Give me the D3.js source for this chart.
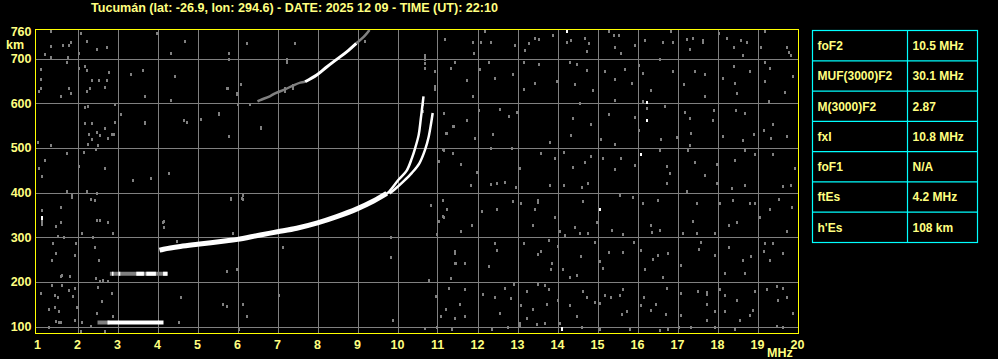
<!DOCTYPE html>
<html><head><meta charset="utf-8">
<script src="https://cdn.jsdelivr.net/npm/d3@7"></script>
<style>
html,body{margin:0;padding:0;background:#000;}
svg{display:block;}
text{font-family:"Liberation Sans",Arial,sans-serif;font-weight:bold;}
</style></head>
<body>
<svg id="c" width="998" height="359"></svg>
<script>
// ---------- data ----------
const title = "Tucumán (lat: -26.9, lon: 294.6) - DATE: 2025 12 09 - TIME (UT): 22:10";
const freqTicks = [1,2,3,4,5,6,7,8,9,10,11,12,13,14,15,16,17,18,19,20];
const heightTicks = [100,200,300,400,500,600,700];
const topHeightLabel = 760;
const tableLabels = ["foF2","MUF(3000)F2","M(3000)F2","fxI","foF1","ftEs","h'Es"];
const tableValues = ["10.5 MHz","30.1 MHz","2.87","10.8 MHz","N/A","4.2 MHz","108 km"];

// F2 trace (common O/X part), frequency MHz, virtual height km
const f2Common = [[4.05,271],[4.15,273],[4.57,279],[5.0,284],[5.73,292],[6.0,295],[6.57,305],[7.0,312],[7.48,320],[8.0,332],[8.48,346],[9.0,364],[9.4,381],[9.73,398]];
const f2OBranch = [[9.7,396],[9.78,401],[10.03,429],[10.23,449],[10.36,477],[10.44,499],[10.53,529],[10.58,563],[10.63,600],[10.65,615]];
const f2XBranch = [[9.8,398],[9.94,408],[10.15,425],[10.36,444],[10.55,466],[10.69,496],[10.78,525],[10.84,555],[10.88,578]];
// second hop F trace
const f2HopFaint = [[6.5,604],[6.57,607],[6.82,616],[6.94,622],[7.19,631],[7.4,640],[7.57,646],[7.69,648]];
const f2HopStrong = [[7.69,648],[7.98,663],[8.23,681],[8.48,698],[8.73,715],[8.97,734]];
const f2HopTail = [[8.97,734],[9.19,752],[9.3,764]];
// sporadic E
const esFaint = [[2.5,109],[2.8,109]];
const esStrong = [[2.75,109],[4.15,109]];
const es2Faint = [[2.81,218],[4.25,218]];
const es2Strong = [[[3.47,218],[3.66,218]],[[3.72,218],[3.96,218]],[[4.14,218],[4.25,218]],[[2.86,218],[2.9,218]],[[3.02,218],[3.07,218]]];

// background speckle
const noise = [
[11.19,744],[11.88,737],[11.9,712],[12.08,738],[12.33,738],[12.19,762],[12.94,731],[13.19,719],[13.29,734],[13.44,747],[13.54,743],[13.88,753],[14.23,738],[14.33,742],[14.69,747],[14.78,734],[14.74,717],[15.29,762],[15.4,753],[15.54,753],[15.44,725],[15.58,712],[15.94,731],[16.19,742],[16.63,738],[16.83,762],[16.88,738],[17.23,743],[17.38,745],[17.63,742],[17.63,738],[17.3,722],[18.03,757],[18.23,747],[18.59,742],[18.73,738],[18.4,725],[18.65,708],[19.08,725],[19.19,762],[19.73,725],[19.78,715],[19.83,708],
[10.94,671],[11.44,693],[11.33,678],[11.73,652],[11.88,617],[12.05,677],[12.28,692],[12.44,656],[12.88,665],[13.15,692],[13.15,632],[13.44,645],[13.54,687],[13.98,649],[14.32,693],[14.48,687],[14.44,643],[14.73,675],[14.88,630],[14.57,600],[15.19,671],[15.44,654],[15.69,677],[15.86,645],[15.43,607],[16.04,686],[16.14,667],[16.33,630],[16.13,605],[16.57,698],[16.9,671],[17.15,643],[17.44,671],[17.69,666],[17.69,615],[18.15,656],[18.4,684],[18.44,645],[18.48,622],[18.82,671],[19.19,693],[19.32,678],[19.19,650],[19.69,626],[19.9,660],[19.28,604],
[11.22,533],[11.4,548],[11.73,563],[11.94,522],[12.03,585],[12.55,587],[12.38,531],[12.79,572],[12.98,581],[13.82,513],[14.33,529],[14.38,566],[14.83,553],[15.09,519],[15.29,575],[15.44,508],[15.94,570],[16.04,540],[16.23,589],[16.58,520],[16.69,594],[16.98,525],[17.19,580],[17.3,566],[17.33,533],[17.32,507],[17.9,585],[17.88,563],[18.15,527],[18.47,585],[18.69,578],[18.65,518],[18.9,531],[19.15,540],[19.33,522],[19.38,553],[19.73,527],
[11.15,496],[11.38,488],[11.58,463],[11.98,445],[12.34,499],[12.86,499],[13.07,454],[13.58,488],[13.94,477],[14.15,490],[14.38,458],[14.69,469],[14.83,481],[15.13,477],[15.44,453],[15.58,477],[15.94,462],[16.55,496],[16.73,460],[16.82,443],[17.25,496],[17.44,468],[17.69,440],[17.98,463],[18.44,473],[18.69,496],[18.94,486],[19.38,486],[19.94,455],
[11.13,383],[11.83,416],[12.33,419],[12.48,422],[12.69,424],[12.97,413],[13.8,416],[14.15,416],[14.6,413],[14.76,422],[15.57,394],[15.88,390],[16.73,422],[17.23,404],[17.98,422],[18.35,411],[18.69,416],[19.63,414],[19.84,416],
[11.15,346],[11.03,337],[11.23,364],[11.58,314],[11.86,327],[12.11,359],[12.48,364],[12.88,381],[13.08,376],[13.44,364],[13.52,383],[13.52,379],[13.38,327],[13.94,346],[14.07,314],[14.19,304],[14.55,310],[14.63,381],[14.77,310],[14.44,323],[14.98,334],[15.36,317],[15.64,307],[16.13,376],[16.33,327],[16.5,384],[16.55,317],[16.36,312],[17.13,310],[17.38,337],[17.48,376],[17.48,310],[17.94,310],[18.05,376],[18.28,327],[18.48,334],[18.38,384],[18.8,376],[18.94,376],[19.05,346],[19.3,362],[19.53,386],[19.73,314],[19.85,368],
[11.44,265],[11.69,243],[11.47,243],[12.44,287],[12.48,272],[12.28,235],[13.15,287],[13.52,263],[13.58,270],[13.85,243],[13.83,228],[14.13,228],[14.0,280],[13.78,293],[14.48,215],[14.3,211],[14.59,257],[14.94,290],[15.07,247],[15.29,267],[15.63,267],[15.13,232],[15.9,290],[16.08,272],[16.18,228],[16.38,252],[16.52,259],[16.77,265],[16.65,211],[17.08,237],[17.58,290],[17.53,273],[17.94,259],[18.19,220],[18.28,278],[18.65,250],[18.69,220],[18.83,257],[19.19,287],[19.15,269],[19.3,249],[19.38,287],[19.65,265],
[11.33,208],[10.96,168],[11.2,140],[11.08,123],[11.28,187],[11.44,118],[11.57,151],[11.69,185],[11.69,123],[12.13,172],[12.44,165],[12.55,131],[12.69,187],[12.83,163],[12.9,195],[13.08,148],[13.23,180],[13.23,120],[13.38,140],[13.07,108],[13.5,195],[13.69,193],[13.78,183],[13.73,151],[14.02,160],[14.05,107],[14.3,148],[14.48,123],[14.63,180],[14.73,165],[14.94,155],[15.05,153],[15.19,170],[15.33,165],[15.55,170],[15.63,183],[15.73,135],[15.62,129],[16.08,148],[16.33,137],[16.15,165],[16.45,151],[16.7,127],[16.73,187],[17.08,175],[17.08,126],[17.52,180],[17.73,178],[17.73,172],[17.73,151],[17.73,115],[17.94,135],[18.07,183],[18.19,170],[18.19,135],[18.48,160],[18.57,115],[18.8,126],[18.94,180],[18.88,137],[19.23,185],[19.48,190],[19.5,160],[19.63,187],[19.73,166],[19.88,131],[19.63,100],
[10.98,100],[11.36,94],[12.36,94],[12.75,100],[13.05,101],[13.48,106],[13.69,107],[14.61,99],[15.07,94],[15.82,94],[16.57,92],[16.75,94],[17.03,100],[17.33,100],[17.94,100],[18.44,94],[19.48,101],
[1.33,762],[2.08,757],[1.33,727],[1.18,711],[1.63,730],[1.83,737],[1.78,730],[1.33,704],[1.77,704],[2.23,739],[2.48,721],[2.73,726],[2.03,713],[1.73,692],[1.08,677],[1.08,655],[1.08,633],[1.03,627],[1.78,633],[1.83,622],[1.58,616],[2.03,679],[2.18,683],[2.24,674],[2.37,652],[2.32,635],[2.23,628],[2.54,652],[2.68,637],[2.73,652],[2.78,670],
[2.18,592],[2.27,593],[2.18,555],[2.37,555],[2.29,532],[2.37,519],[2.49,536],[2.56,529],[2.68,544],[2.77,523],[2.87,532],[2.47,497],[2.51,506],[2.27,508],[2.93,558],[1.02,514],[1.33,506],[1.73,488],[1.18,473],[1.03,455],[1.12,438],[2.03,460],[2.17,491],[2.68,455],
[1.73,403],[1.87,397],[1.87,391],[2.24,403],[2.33,385],[2.43,383],[2.49,398],[1.58,368],[1.12,361],[1.12,336],[1.12,329],[1.47,324],[1.58,333],[1.39,288],[1.51,303],[1.66,300],[1.47,265],[1.37,249],[1.93,260],[1.97,288],[2.12,309],[2.43,277],[2.54,248],[2.39,301],[2.56,339],[2.49,339],[2.77,333],[2.89,310],
[1.6,216],[1.81,212],[1.58,212],[1.37,193],[1.62,193],[1.79,181],[1.89,169],[1.93,186],[1.43,171],[1.52,167],[1.08,176],[1.28,139],[1.43,143],[1.54,134],[1.46,113],[1.54,111],[1.58,111],[1.93,115],[2.12,111],[1.99,143],[2.46,208],[2.5,189],[2.56,201],[2.48,131],[2.62,156],[2.64,204],[2.77,201],[2.89,124],[2.85,175],[1.29,99],[2.08,89],[2.33,102],[2.68,89],
[3.98,757],[4.69,739],[4.33,712],[5.79,712],[5.79,699],[6.23,734],[7.44,734],[7.23,697],[7.23,692],[10.69,704],[10.69,698],[10.69,678],[3.33,666],[3.63,675],[4.44,661],[3.69,617],[4.34,608],[2.94,598],[3.08,576],[2.94,558],[2.9,531],[3.69,555],[4.65,563],[4.73,558],[5.08,565],[5.54,576],[5.73,634],[6.08,643],[5.98,620],[6.02,598],[6.32,598],[6.59,544],[5.79,527],[10.63,604],[10.63,598],[10.63,583],[4.29,444],[3.83,433],[3.38,429],
[5.83,385],[6.13,394],[6.13,385],[4.13,334],[4.17,323],[4.48,291],[5.88,310],[7.13,279],[9.83,301],[9.83,256],[10.78,203],[5.73,225],[5.98,228],[7.03,171],[4.58,167],[5.63,150],[5.73,146],[6.13,150],[6.23,124],[4.54,111],[6.04,94],[9.88,115],[10.69,96],
[3.69,616],[4.33,607],[3.69,557],[5.54,578],[5.75,634],[5.98,622],[6.11,388],[5.83,388],[6.58,546],[4.15,336],[11.43,268],[11.43,243],[11.23,534],[11.38,548],[11.15,578],[11.13,497],[11.13,384],[11.13,347],[11.03,470],[10.83,373],[10.98,306],[10.94,639],[10.94,631],
[6.23,735],[7.44,735],[7.23,698],[6.08,644],[5.98,620],[6.32,598],[7.19,633],[7.19,628],[7.38,640],[7.38,635],[9.19,740],[10.69,707],[10.69,690]
];
const noiseWhite = [[14.23,762],[16.24,602],[16.24,563],[16.08,486],[15.05,364],[14.11,94],[14.11,97],[1.12,346],[1.12,343]];

// ---------- drawing ----------
const svg = d3.select("#c");
const x = d3.scaleLinear().domain([1,20]).range([37.5,797.5]);
const y = d3.scaleLinear().domain([100,700]).range([326.5,58.5]);
const frame = {l:35.5, r:798.5, t:29.5, b:333.5};
const GRID = "#808080", YEL = "#ffff00", TXT = "#ffff80", CY = "#00ffff";

svg.append("rect").attr("width",998).attr("height",359).attr("fill","#000");

svg.append("text").attr("x",91).attr("y",11.5).attr("fill",TXT)
  .attr("font-size",12.5).attr("textLength",407).attr("lengthAdjust","spacingAndGlyphs").text(title);

const clip = svg.append("clipPath").attr("id","pc").append("rect")
  .attr("x",frame.l).attr("y",frame.t).attr("width",frame.r-frame.l).attr("height",frame.b-frame.t);

const g = svg.append("g");
// grid
g.selectAll("line.vg").data(freqTicks.filter(d=>d>1&&d<20)).join("line")
  .attr("x1",d=>Math.round(x(d))+0.5).attr("x2",d=>Math.round(x(d))+0.5)
  .attr("y1",frame.t).attr("y2",frame.b).attr("stroke",GRID).attr("stroke-width",1).attr("shape-rendering","crispEdges");
g.selectAll("line.hg").data(heightTicks).join("line")
  .attr("y1",d=>Math.round(y(d))+0.5).attr("y2",d=>Math.round(y(d))+0.5)
  .attr("x1",frame.l).attr("x2",frame.r).attr("stroke",GRID).attr("stroke-width",1).attr("shape-rendering","crispEdges");

const pg = svg.append("g").attr("clip-path","url(#pc)");
// noise
pg.selectAll("rect.n").data(noise).join("rect")
  .attr("x",d=>Math.round(x(d[0]))-1).attr("y",d=>Math.round(y(d[1]))-1.5)
  .attr("width",2).attr("height",3).attr("fill",GRID).attr("shape-rendering","crispEdges");
pg.selectAll("rect.nw").data(noiseWhite).join("rect")
  .attr("x",d=>Math.round(x(d[0]))-1).attr("y",d=>Math.round(y(d[1]))-1.5)
  .attr("width",2).attr("height",3).attr("fill","#fff").attr("shape-rendering","crispEdges");

const line = d3.line().x(d=>x(d[0])).y(d=>y(d[1])).curve(d3.curveCatmullRom);
const draw = (data,color,w)=>pg.append("path").datum(data).attr("d",line)
  .attr("fill","none").attr("stroke",color).attr("stroke-width",w);

draw(esFaint,GRID,4);
draw(esStrong,"#fff",4);
draw(es2Faint,GRID,4);
es2Strong.forEach(s=>draw(s,"#fff",4));
draw(f2HopFaint,GRID,2.5);
draw(f2HopTail,GRID,2.5);
draw(f2HopStrong,"#fff",3);
draw(f2Common,"#fff",5);
draw(f2OBranch,"#fff",2.5);
draw(f2XBranch,"#fff",2.5);

// frame
svg.append("rect").attr("x",frame.l).attr("y",frame.t).attr("width",frame.r-frame.l).attr("height",frame.b-frame.t)
  .attr("fill","none").attr("stroke",YEL).attr("stroke-width",1).attr("shape-rendering","crispEdges");

// axis labels
svg.selectAll("text.xl").data(freqTicks).join("text")
  .attr("x",d=>x(d)).attr("y",348.8).attr("text-anchor","middle").attr("fill",TXT).attr("font-size",12.5).text(d=>d);
svg.selectAll("text.yl").data(heightTicks).join("text")
  .attr("x",31.5).attr("y",d=>y(d)+4.5).attr("text-anchor","end").attr("fill",TXT).attr("font-size",12.5).text(d=>d);
svg.append("text").attr("x",31.5).attr("y",35.5).attr("text-anchor","end").attr("fill",TXT).attr("font-size",12.5).text(topHeightLabel);
svg.append("text").attr("x",6).attr("y",48.5).attr("fill",TXT).attr("font-size",12.5).text("km");
svg.append("text").attr("x",767).attr("y",356.5).attr("fill",TXT).attr("font-size",12.5).text("MHz");

// table
const tb = {l:812.5, r:977.5, t:30.5, b:242.5, mid:907.5};
const ry = d3.scaleLinear().domain([0,tableLabels.length]).range([tb.t,tb.b]);
svg.append("rect").attr("x",tb.l).attr("y",tb.t).attr("width",tb.r-tb.l).attr("height",tb.b-tb.t)
  .attr("fill","none").attr("stroke",CY).attr("stroke-width",1.2);
svg.append("line").attr("x1",tb.mid).attr("x2",tb.mid).attr("y1",tb.t).attr("y2",tb.b).attr("stroke",CY).attr("stroke-width",1.2);
svg.selectAll("line.row").data(d3.range(1,tableLabels.length)).join("line")
  .attr("x1",tb.l).attr("x2",tb.r).attr("y1",d=>ry(d)).attr("y2",d=>ry(d)).attr("stroke",CY).attr("stroke-width",1.2);
svg.selectAll("text.tl").data(tableLabels).join("text")
  .attr("x",817.5).attr("y",(d,i)=>(ry(i)+ry(i+1))/2+4.3).attr("fill",TXT).attr("font-size",12).text(d=>d);
svg.selectAll("text.tv").data(tableValues).join("text")
  .attr("x",912.5).attr("y",(d,i)=>(ry(i)+ry(i+1))/2+4.3).attr("fill",TXT).attr("font-size",12).text(d=>d);
</script>
</body></html>
